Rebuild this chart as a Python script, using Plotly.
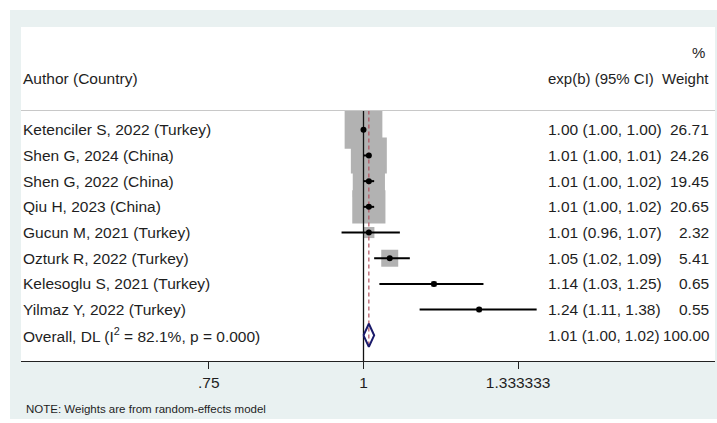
import plotly.graph_objects as go

# ---- study data ----
studies = [
    "Ketenciler S, 2022 (Turkey)",
    "Shen G, 2024 (China)",
    "Shen G, 2022 (China)",
    "Qiu H, 2023 (China)",
    "Gucun M, 2021 (Turkey)",
    "Ozturk R, 2022 (Turkey)",
    "Kelesoglu S, 2021 (Turkey)",
    "Yilmaz Y, 2022 (Turkey)",
]
effect = [1.00, 1.01, 1.01, 1.01, 1.01, 1.05, 1.14, 1.24]
ci_low = [1.00, 1.00, 1.00, 1.00, 0.96, 1.02, 1.03, 1.11]
ci_high = [1.00, 1.01, 1.02, 1.02, 1.07, 1.09, 1.25, 1.38]
weights = [26.71, 24.26, 19.45, 20.65, 2.32, 5.41, 0.65, 0.55]

overall_effect = 1.01
overall_low = 1.00
overall_high = 1.02
overall_weight = 100.00
i_squared = 82.1
p_value = 0.000

tick_vals = [0.75, 1, 1.333333]
tick_text = [".75", "1", "1.333333"]

# ---- layout geometry (pixels) ----
W, H = 717, 423
PL, PR, PT, PB = 21, 715, 27, 361          # plot area edges
X_ONE = 363.5                               # pixel of x = 1
PX_PER_DECADE = 1237.9
Y_TOP, Y_BOTTOM = -4.0, 9.0                 # row units (rows 0..8)

FONT = "Liberation Sans, Arial, sans-serif"
TXT = "#1e1e1e"
FS = 15.5
FS_HEAD = 15
BOX_SCALE = 7.3

def paper_x(px):
    return (px - PL) / (PR - PL)

def paper_y(py):
    return (PB - py) / (PB - PT)

x_range = [(PL - X_ONE) / PX_PER_DECADE, (PR - X_ONE) / PX_PER_DECADE]

n = len(studies)
rows = list(range(n))
overall_row = n

fig = go.Figure()

# weight boxes (area proportional to weight)
fig.add_trace(go.Scatter(
    x=effect, y=rows, mode="markers",
    marker=dict(symbol="square", size=[BOX_SCALE * w ** 0.5 for w in weights],
                color="#b2b2b2", opacity=1, line=dict(width=0)),
    hoverinfo="skip", showlegend=False,
))

# null line at 1
fig.add_trace(go.Scatter(
    x=[1, 1], y=[-0.75, Y_BOTTOM], mode="lines",
    line=dict(color="#111111", width=1.3), hoverinfo="skip", showlegend=False,
))

# pooled estimate line
fig.add_trace(go.Scatter(
    x=[overall_effect, overall_effect], y=[-0.75, overall_row + 0.45], mode="lines",
    line=dict(color="#b0505e", width=1.2, dash="4px,3px"),
    hoverinfo="skip", showlegend=False,
))

# confidence intervals
ci_x, ci_y = [], []
for r, lo, hi in zip(rows, ci_low, ci_high):
    ci_x += [lo, hi, None]
    ci_y += [r, r, None]
fig.add_trace(go.Scatter(
    x=ci_x, y=ci_y, mode="lines", line=dict(color="#000000", width=2),
    hoverinfo="skip", showlegend=False,
))

# point estimates
fig.add_trace(go.Scatter(
    x=effect, y=rows, mode="markers",
    marker=dict(symbol="circle", size=6, color="#000000"),
    hoverinfo="skip", showlegend=False,
))

# pooled diamond
dh = 0.45
fig.add_trace(go.Scatter(
    x=[overall_low, overall_effect, overall_high, overall_effect, overall_low],
    y=[overall_row, overall_row - dh, overall_row, overall_row + dh, overall_row],
    mode="lines", line=dict(color="#1a1a6a", width=2),
    hoverinfo="skip", showlegend=False,
))

annotations = []

def add_text(text, px, row, anchor, size=FS):
    annotations.append(dict(
        x=paper_x(px), xref="paper", y=row, yref="y", text=text,
        showarrow=False, xanchor=anchor, yanchor="middle", borderpad=0,
        font=dict(family=FONT, size=size, color=TXT),
    ))

LEFT_X = 22
ES_X = 547
WT_X = 710

# headers
add_text("%", WT_X - 4, -3, "right", FS_HEAD)
add_text("Author (Country)", LEFT_X, -2, "left")
add_text("exp(b) (95% CI)", ES_X, -2, "left", FS_HEAD)
add_text("Weight", WT_X, -2, "right", FS_HEAD)

# study rows
for r, name, e, lo, hi, w in zip(rows, studies, effect, ci_low, ci_high, weights):
    add_text(name, LEFT_X, r, "left")
    add_text(f"{e:.2f} ({lo:.2f}, {hi:.2f})", ES_X, r, "left")
    add_text(f"{w:.2f}", WT_X, r, "right")

# pooled row
add_text(f"Overall, DL (I<sup>2</sup> = {i_squared:.1f}%, p = {p_value:.3f})",
         LEFT_X, overall_row, "left")
add_text(f"{overall_effect:.2f} ({overall_low:.2f}, {overall_high:.2f})", ES_X, overall_row, "left", 15.2)
add_text(f"{overall_weight:.2f}", WT_X, overall_row, "right", 15.2)

# footnote
annotations.append(dict(
    x=paper_x(25), xref="paper", y=paper_y(409), yref="paper",
    text="NOTE: Weights are from random-effects model", showarrow=False,
    xanchor="left", yanchor="middle", borderpad=0,
    font=dict(family=FONT, size=11.5, color=TXT),
))

shapes = [
    # graph region background
    dict(type="rect", xref="paper", yref="paper",
         x0=paper_x(10), x1=paper_x(W + 5), y0=paper_y(419), y1=paper_y(10),
         fillcolor="#e9f1f1", line=dict(width=0), layer="below"),
    # plot region
    dict(type="rect", xref="paper", yref="paper",
         x0=0, x1=1, y0=0, y1=1,
         fillcolor="#ffffff", line=dict(width=0), layer="below"),
    # header separator
    dict(type="line", xref="paper", yref="y", x0=0, x1=1, y0=-0.75, y1=-0.75,
         line=dict(color="#c8c8c8", width=1)),
]

fig.update_layout(
    width=W, height=H,
    margin=dict(l=PL, r=W - PR, t=PT, b=H - PB, pad=0),
    paper_bgcolor="#ffffff", plot_bgcolor="rgba(0,0,0,0)",
    showlegend=False,
    annotations=annotations, shapes=shapes,
    xaxis=dict(
        type="log", range=x_range, tickvals=tick_vals, ticktext=tick_text,
        showgrid=False, zeroline=False, showline=True, linecolor="#222222",
        linewidth=1, ticks="outside", ticklen=7, tickcolor="#222222", tickwidth=1,
        tickfont=dict(family=FONT, size=FS, color=TXT), fixedrange=True,
    ),
    yaxis=dict(range=[Y_BOTTOM, Y_TOP], visible=False, fixedrange=True),
)

fig.write_html("out.html")
